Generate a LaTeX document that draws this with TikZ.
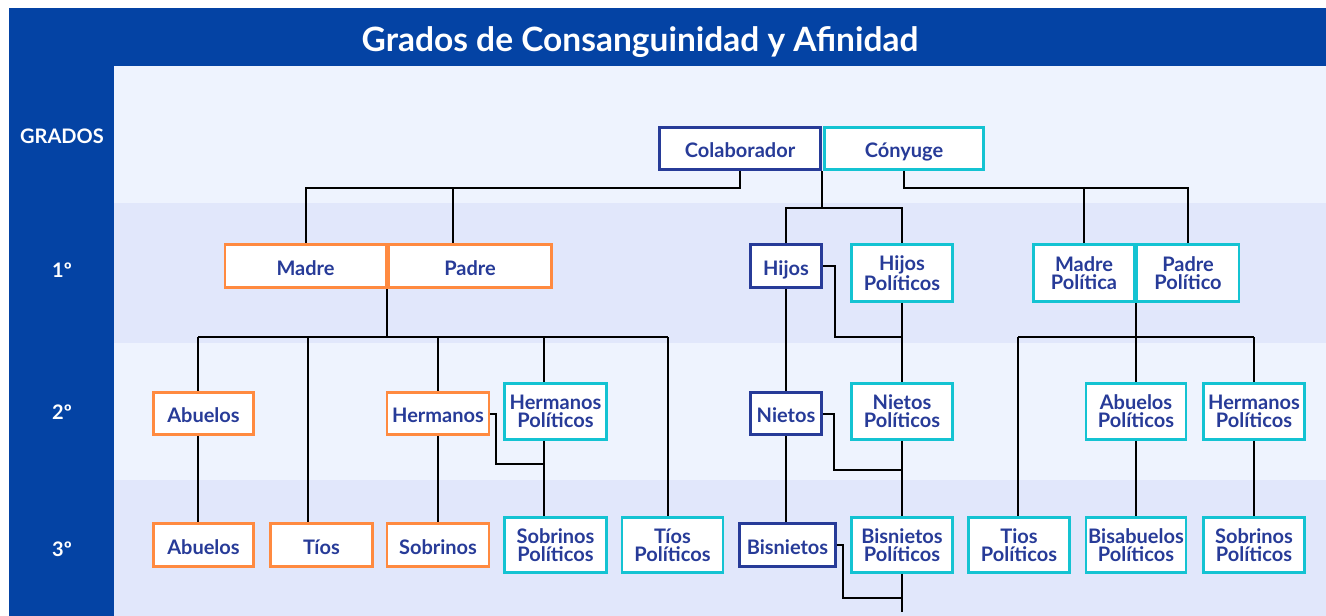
\documentclass[tikz,border=0pt]{standalone}
\usepackage{fontspec}
\setmainfont{Lato}
\definecolor{hdr}{HTML}{0443A4}
\definecolor{bandA}{HTML}{EEF3FE}
\definecolor{bandB}{HTML}{E1E7FB}
\definecolor{navy}{HTML}{273B98}
\definecolor{orng}{HTML}{FF8A40}
\definecolor{cyanb}{HTML}{14C3D2}
\tikzset{
  wh/.style 2 args={minimum width=#1pt, minimum height=#2pt},
  bx/.style={draw, line width=2.6pt, fill=white, text=navy, align=center,
    inner sep=0pt, font=\bfseries\fontsize{20}{18}\selectfont},
  one/.style={text height=18pt, text depth=0pt},
  obox/.style={bx, draw=orng},
  cbox/.style={bx, draw=cyanb},
  nbox/.style={bx, draw=navy},
  conn/.style={draw=black, line width=2pt, line join=miter},
  grlabel/.style={text=white, anchor=base, inner sep=0pt, font=\bfseries\fontsize{20}{20}\selectfont},
}
\begin{document}
\begin{tikzpicture}[x=1pt,y=-1pt]
\useasboundingbox (0,0) rectangle (1326,616);
% background
\fill[white] (0,0) rectangle (1326,616);
\fill[hdr] (9,8) rectangle (1326,66);
\fill[hdr] (9,8) rectangle (114,616);
\fill[bandA] (114,66) rectangle (1326,203);
\fill[bandB] (114,203) rectangle (1326,343);
\fill[bandA] (114,343) rectangle (1326,480);
\fill[bandB] (114,480) rectangle (1326,616);
\node[text=white, anchor=base, inner sep=0pt, font=\bfseries\fontsize{33.5}{36}\selectfont] (title) at (640,51) {Grados de Consanguinidad y Afinidad};
\node[grlabel] (g0) at (62,143) {GRADOS};
\node[grlabel] (g1) at (62,277) {1º};
\node[grlabel] (g2) at (62,419) {2º};
\node[grlabel] (g3) at (62,556) {3º};

% row 0
\node[nbox, one, wh={161}{42}] (colab) at (740,148.5) {Colaborador};
\node[cbox, one, wh={159}{42}] (cony) at (904,148.5) {Cónyuge};
% row 1
\node[obox, one, wh={161}{43}] (madre) at (305.5,266) {Madre};
\node[obox, one, wh={163}{43}] (padre) at (470,266) {Padre};
\node[nbox, one, wh={71}{43}] (hijos) at (786,266) {Hijos};
\node[cbox, wh={101}{57}] (hpol) at (902,273) {Hijos\\Políticos};
\node[cbox, wh={101}{57}] (mpol) at (1084,273) {Madre\\Política};
\node[cbox, wh={102}{57}] (ppol) at (1188,273) {Padre\\Político};
% row 2
\node[obox, one, wh={100}{42}] (ab2) at (203.5,413.5) {Abuelos};
\node[obox, one, wh={102}{42}] (herm) at (438,413.5) {Hermanos};
\node[cbox, wh={102}{56}] (hepol) at (555.5,411.5) {Hermanos\\Políticos};
\node[nbox, one, wh={71}{42}] (nietos) at (786,413.5) {Nietos};
\node[cbox, wh={101}{56}] (npol) at (902,411.5) {Nietos\\Políticos};
\node[cbox, wh={100}{56}] (apol) at (1136,411.5) {Abuelos\\Políticos};
\node[cbox, wh={101}{56}] (hrpol) at (1254,411.5) {Hermanos\\Políticos};
% row 3
\node[obox, one, wh={100}{43}] (ab3) at (203.5,545) {Abuelos};
\node[obox, one, wh={102}{43}] (tios) at (321.5,545) {Tíos};
\node[obox, one, wh={102}{43}] (sobr) at (438,545) {Sobrinos};
\node[cbox, wh={102}{55}] (spol) at (555.5,545) {Sobrinos\\Políticos};
\node[cbox, wh={101}{55}] (tpol) at (672.5,545) {Tíos\\Políticos};
\node[nbox, one, wh={96}{43}] (bisn) at (787.5,545) {Bisnietos};
\node[cbox, wh={101}{55}] (bpol) at (902,545) {Bisnietos\\Políticos};
\node[cbox, wh={101}{55}] (tpol2) at (1019,545) {Tios\\Políticos};
\node[cbox, wh={100}{55}] (bapol) at (1136,545) {Bisabuelos\\Políticos};
\node[cbox, wh={101}{55}] (sopol) at (1254,545) {Sobrinos\\Políticos};

% junction coordinates
\coordinate (jl) at (740,188);
\coordinate (jlp) at (453,188);
\coordinate (jc) at (822,208);
\coordinate (jr) at (904,188);
\coordinate (jmp) at (387,337);
\coordinate (dab) at (198,337);
\coordinate (dti) at (308,337);
\coordinate (dhe) at (438,337);
\coordinate (dhp) at (544,337);
\coordinate (dtp) at (668,337);
\coordinate (jhs) at (544,464);
\coordinate (jhi) at (902,337);
\coordinate (jni) at (902,470);
\coordinate (jbi) at (902,598);
\coordinate (bend) at (902,612);
\coordinate (jpp) at (1136,337);
\coordinate (dtp2) at (1018,337);
\coordinate (dhr) at (1254,337);

% top level
\draw[conn] (colab.south) -- (jl) -| (madre.north);
\draw[conn] (jlp) -- (jlp |- padre.north);
\draw[conn] (jc |- colab.south) -- (jc);
\draw[conn] (hijos.north) |- (jc) -| (hpol.north);
\draw[conn] (cony.south) -- (jr) -| (ppol.north);
\draw[conn] (jr -| mpol.north) -- (mpol.north);
% consanguinity left
\draw[conn] (jmp |- madre.south) -- (jmp);
\draw[conn] (dab) -- (dtp);
\draw[conn] (dab) -- (dab |- ab2.north);
\draw[conn] (dti) -- (dti |- tios.north);
\draw[conn] (dhe) -- (herm.north);
\draw[conn] (dhp) -- (dhp |- hepol.north);
\draw[conn] (dtp) -- (dtp |- tpol.north);
\draw[conn] (dab |- ab2.south) -- (dab |- ab3.north);
\draw[conn] (herm.south) -- (sobr.north);
\draw[conn] (dhp |- hepol.south) -- (dhp |- spol.north);
\draw[conn] (herm.east) -- ++(6,0) |- (jhs);
% descendants
\draw[conn] (hijos.south) -- (hijos.south |- nietos.north);
\draw[conn] (nietos.south) -- (nietos.south |- bisn.north);
\draw[conn] (hpol.south) -- (npol.north);
\draw[conn] (npol.south) -- (bpol.north);
\draw[conn] (bpol.south) -- (bend);
\draw[conn] (hijos.east) -- ++(12,0) |- (jhi);
\draw[conn] (nietos.east) -- ++(11,0) |- (jni);
\draw[conn] (bisn.east) -- ++(6,0) |- (jbi);
% affinity right
\draw[conn] (jpp |- mpol.south) -- (jpp);
\draw[conn] (dtp2) -- (dhr);
\draw[conn] (dtp2) -- (dtp2 |- tpol2.north);
\draw[conn] (jpp) -- (apol.north);
\draw[conn] (dhr) -- (hrpol.north);
\draw[conn] (apol.south) -- (bapol.north);
\draw[conn] (hrpol.south) -- (sopol.north);
\end{tikzpicture}
\end{document}
